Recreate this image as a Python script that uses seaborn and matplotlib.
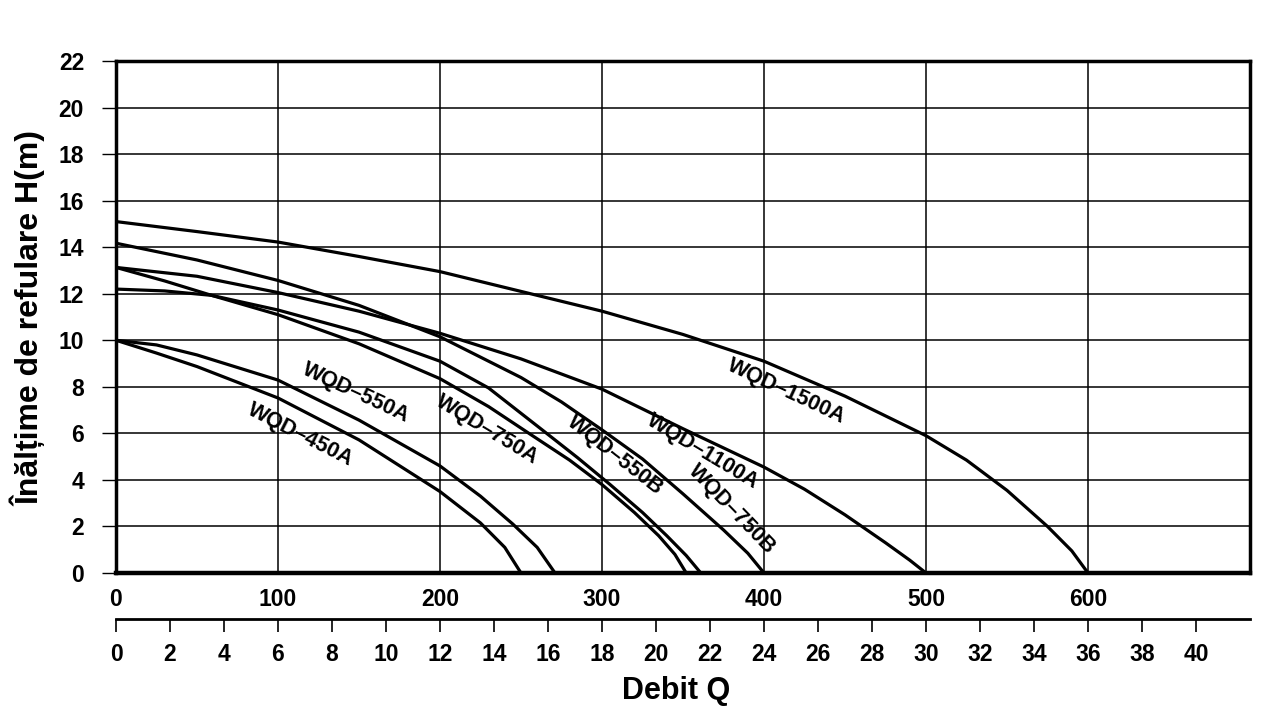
import matplotlib
matplotlib.use("Agg")
import matplotlib.pyplot as plt
import seaborn as sns
import pandas as pd

# pump curves: flow Q (L/min) and head H (m)
models = ["WQD–450A", "WQD–550A", "WQD–750A", "WQD–550B", "WQD–750B", "WQD–1100A", "WQD–1500A"]

q_450a = [0, 25, 50, 100, 150, 200, 225, 240, 250]
h_450a = [10.0, 9.45, 8.87, 7.52, 5.72, 3.5, 2.15, 1.1, 0.0]

q_550a = [0, 25, 50, 100, 150, 200, 225, 245, 260, 271]
h_550a = [10.0, 9.8, 9.37, 8.29, 6.57, 4.6, 3.3, 2.1, 1.1, 0.0]

q_750a = [0, 30, 59, 100, 150, 200, 230, 256, 280, 300, 320, 335, 345, 352]
h_750a = [13.13, 12.55, 11.93, 11.1, 9.85, 8.35, 7.15, 5.95, 4.85, 3.8, 2.6, 1.6, 0.8, 0.0]

q_550b = [0, 30, 59, 100, 150, 200, 230, 264, 285, 305, 325, 340, 352, 361]
h_550b = [12.2, 12.12, 11.93, 11.3, 10.35, 9.1, 7.95, 6.1, 4.95, 3.8, 2.6, 1.6, 0.75, 0.0]

q_750b = [0, 50, 100, 150, 200, 250, 275, 300, 325, 350, 375, 390, 400]
h_750b = [14.17, 13.45, 12.57, 11.5, 10.15, 8.4, 7.35, 6.15, 4.9, 3.4, 1.85, 0.85, 0.0]

q_1100a = [0, 50, 100, 150, 200, 250, 300, 350, 400, 425, 450, 475, 490, 500]
h_1100a = [13.13, 12.75, 12.05, 11.25, 10.3, 9.2, 7.9, 6.2, 4.55, 3.6, 2.5, 1.3, 0.55, 0.0]

q_1500a = [0, 50, 100, 150, 200, 250, 300, 350, 400, 450, 500, 525, 550, 575, 590, 600]
h_1500a = [15.1, 14.67, 14.22, 13.6, 12.95, 12.1, 11.25, 10.25, 9.1, 7.6, 5.9, 4.85, 3.55, 2.0, 0.95, 0.0]

all_q = [q_450a, q_550a, q_750a, q_550b, q_750b, q_1100a, q_1500a]
all_h = [h_450a, h_550a, h_750a, h_550b, h_750b, h_1100a, h_1500a]

y_ticks = list(range(0, 23, 2))
x_ticks = list(range(0, 601, 100))
m3h_ticks = list(range(0, 41, 2))

# where the model names sit (Q, H, angle)
label_pos = [(114, 5.95, -27), (148, 7.75, -25), (229, 6.15, -31), (308, 5.05, -38),
             (380, 2.75, -46), (362, 5.2, -31), (414, 7.8, -25)]

sns.set_style("white")
plt.rcParams["font.family"] = ["Liberation Sans", "DejaVu Sans"]
plt.rcParams["font.weight"] = "bold"
plt.rcParams["text.color"] = "black"
plt.rcParams["xtick.color"] = "black"
plt.rcParams["ytick.color"] = "black"
plt.rcParams["axes.labelcolor"] = "black"

rows = []
for name, qs, hs in zip(models, all_q, all_h):
    for q, h in zip(qs, hs):
        rows.append({"model": name, "Q": q, "H": h})
df = pd.DataFrame(rows)

fig = plt.figure(figsize=(12.8, 7.14), dpi=100)
ax = fig.add_axes([116 / 1280, 1 - 573 / 714, 1134 / 1280, 512 / 714])

for name in models:
    sub = df[df.model == name]
    sns.lineplot(data=sub, x="Q", y="H", ax=ax, color="black", linewidth=2.3,
                 sort=False, estimator=None)

for name, (lq, lh, ang) in zip(models, label_pos):
    ax.text(lq, lh, name, rotation=ang, rotation_mode="anchor", ha="center", va="center",
            fontsize=15.5, fontweight="bold", color="black")

ax.set_xlim(0, 700)
ax.set_ylim(0, 22)
ax.set_yticks(y_ticks)
ax.set_xticks(x_ticks)
ax.set_xticklabels([str(t) for t in x_ticks])
ax.set_yticklabels([str(t) for t in y_ticks])
for xv in x_ticks[1:]:
    ax.axvline(xv, color="black", linewidth=1.1, zorder=0)
for yv in y_ticks[1:]:
    ax.axhline(yv, color="black", linewidth=1.1, zorder=0)
ax.tick_params(axis="y", direction="out", length=10, width=1, labelsize=16.5, pad=13, left=True)
ax.tick_params(axis="x", length=0, labelsize=16.5, pad=11)
for s in ax.spines.values():
    s.set_linewidth(2.5)
    s.set_color("black")
ax.spines["bottom"].set_linewidth(3.2)
ax.set_xlabel("")
ax.set_ylabel("")

# second flow scale in m3/h underneath
sec = ax.secondary_xaxis(-46 / 512, functions=(lambda q: q * 0.06, lambda m: m / 0.06))
sec.set_xticks(m3h_ticks)
sec.set_xticklabels([str(t) for t in m3h_ticks])
sec.tick_params(direction="out", length=9, width=1.2, labelsize=16.5, pad=8, colors="black")
sec.spines["bottom"].set_linewidth(2)
sec.spines["bottom"].set_color("black")

fig.text(676 / 1280, 1 - 691 / 714, "Debit Q", ha="center", va="center",
         fontsize=22, fontweight="bold")
fig.text(29 / 1280, 1 - 319 / 714, "Înălțime de refulare H(m)", ha="center", va="center",
         rotation=90, fontsize=23, fontweight="bold")

fig.savefig("out.png", dpi=100, facecolor="white")
